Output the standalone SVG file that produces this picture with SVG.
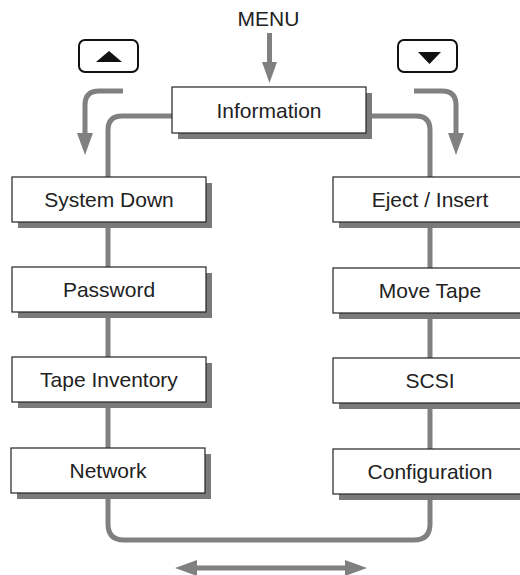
<svg xmlns="http://www.w3.org/2000/svg" width="520" height="575" viewBox="0 0 520 575">
<style>
.box{fill:#fff;stroke:#222;stroke-width:1.2}
.sh{fill:#7a7a7a}
.t{font-family:"Liberation Sans",Arial,sans-serif;font-size:21px;fill:#222;text-anchor:middle}
.c{fill:none;stroke:#808080;stroke-width:5}
.h{fill:#808080}
.btn{fill:#fff;stroke:#111;stroke-width:2}
</style>
<rect width="520" height="575" fill="#fff"/>
<g id="connectors">
<path class="c" d="M269.5,33 V64"/>
<polygon class="h" points="262,62 277,62 269.5,83"/>
<path class="c" d="M123,91 H99 Q85,91 85,105 V136"/>
<polygon class="h" points="77,133 93,133 85,155"/>
<path class="c" d="M414,91 H442 Q456,91 456,105 V136"/>
<polygon class="h" points="448,133 464,133 456,155"/>
<path class="c" d="M172,116 H122 Q108,116 108,130 V177"/>
<path class="c" d="M366,116 H416 Q430,116 430,130 V177"/>
<path class="c" d="M108,222 V267 M108,312 V357 M108,402 V448"/>
<path class="c" d="M430,222 V268 M430,313 V358 M430,403 V449"/>
<path class="c" d="M108,493 V524 Q108,540 124,540 H414 Q430,540 430,524 V494"/>
<path class="c" d="M195,568 H347"/>
<polygon class="h" points="175,568 197,560 197,576"/>
<polygon class="h" points="367,568 345,560 345,576"/>
</g>
<g id="menu"><text class="t" x="268.5" y="26">MENU</text></g>
<g id="btn-up">
<rect class="btn" x="79" y="40" width="59" height="32" rx="6"/>
<polygon points="96,62 122,62 109,51" fill="#111"/>
</g>
<g id="btn-down">
<rect class="btn" x="398" y="40" width="59" height="32" rx="6"/>
<polygon points="418,52 441,52 429.5,64" fill="#111"/>
</g>
<g id="information">
<rect class="sh" x="178" y="93" width="194" height="46"/>
<rect class="box" x="172" y="87" width="194" height="46"/>
<text class="t" x="269" y="117.5">Information</text>
</g>
<g id="system-down">
<rect class="sh" x="18" y="183" width="194" height="45"/>
<rect class="box" x="12" y="177" width="194" height="45"/>
<text class="t" x="109" y="207">System Down</text>
</g>
<g id="password">
<rect class="sh" x="18" y="273" width="194" height="45"/>
<rect class="box" x="12" y="267" width="194" height="45"/>
<text class="t" x="109" y="297">Password</text>
</g>
<g id="tape-inventory">
<rect class="sh" x="18" y="363" width="194" height="45"/>
<rect class="box" x="12" y="357" width="194" height="45"/>
<text class="t" x="109" y="387">Tape Inventory</text>
</g>
<g id="network">
<rect class="sh" x="17" y="454" width="194" height="45"/>
<rect class="box" x="11" y="448" width="194" height="45"/>
<text class="t" x="108" y="478">Network</text>
</g>
<g id="eject-insert">
<rect class="sh" x="339" y="183" width="194" height="45"/>
<rect class="box" x="333" y="177" width="194" height="45"/>
<text class="t" x="430" y="207">Eject / Insert</text>
</g>
<g id="move-tape">
<rect class="sh" x="339" y="274" width="194" height="45"/>
<rect class="box" x="333" y="268" width="194" height="45"/>
<text class="t" x="430" y="298">Move Tape</text>
</g>
<g id="scsi">
<rect class="sh" x="339" y="364" width="194" height="45"/>
<rect class="box" x="333" y="358" width="194" height="45"/>
<text class="t" x="430" y="388">SCSI</text>
</g>
<g id="configuration">
<rect class="sh" x="339" y="455" width="194" height="45"/>
<rect class="box" x="333" y="449" width="194" height="45"/>
<text class="t" x="430" y="479">Configuration</text>
</g>
</svg>
